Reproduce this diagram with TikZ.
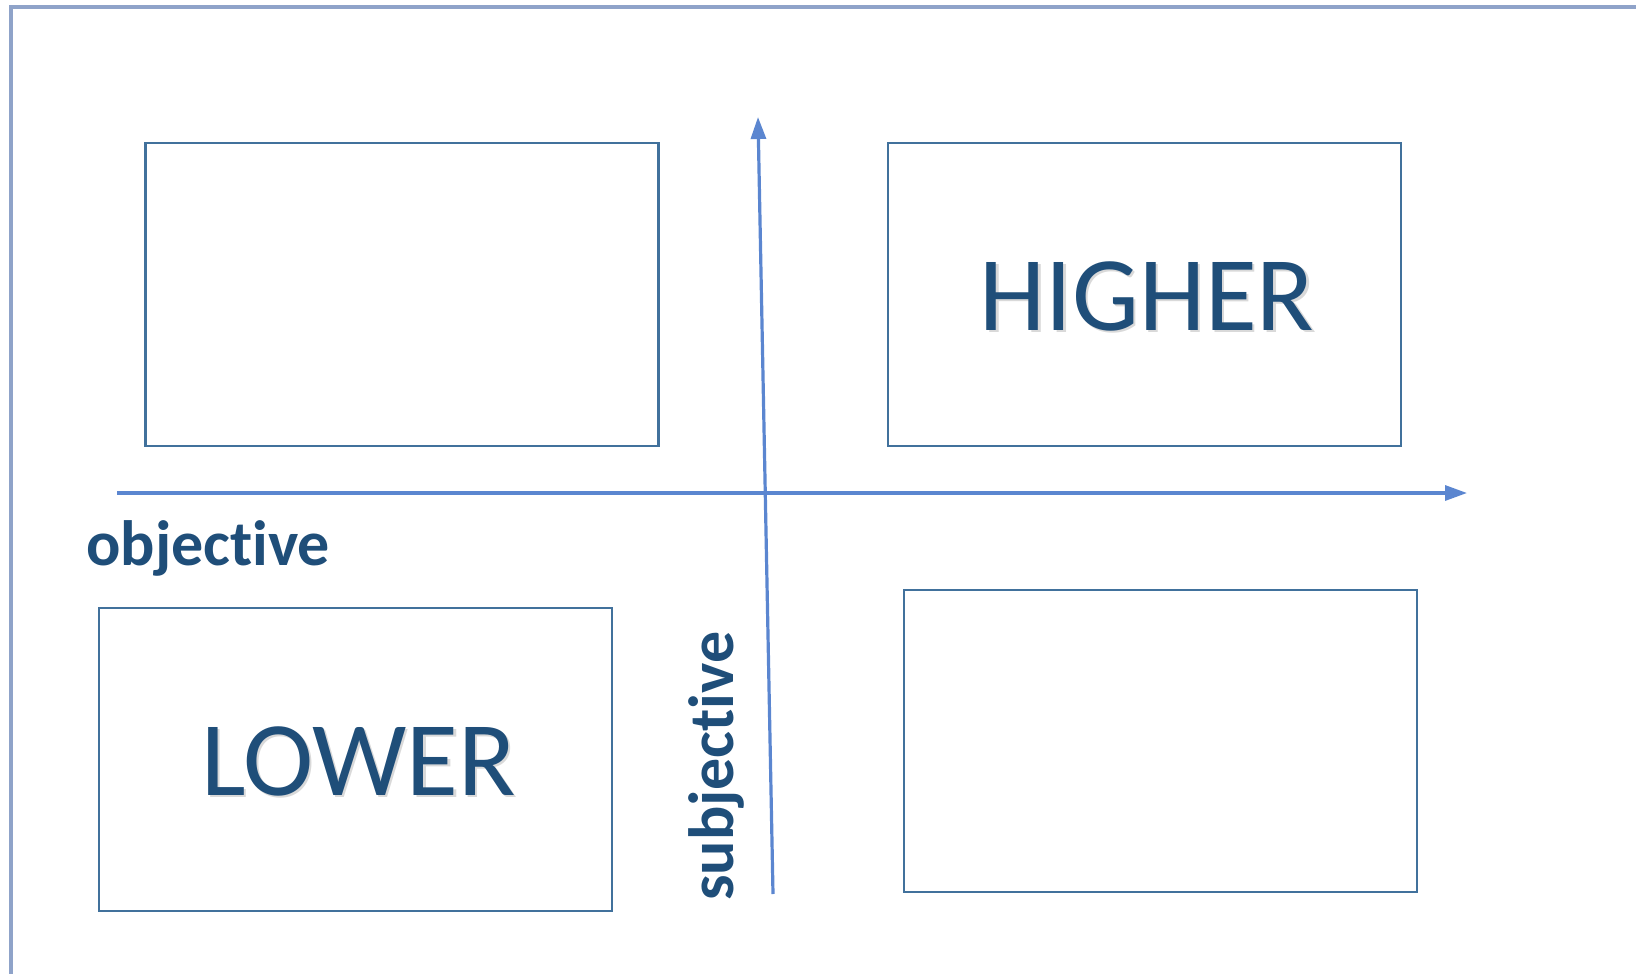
\documentclass[tikz,border=0pt]{standalone}
\usepackage{fontspec}
\setmainfont{Carlito}[Ligatures=NoCommon]
\usetikzlibrary{arrows.meta}
\definecolor{txtblue}{HTML}{1F4E79}
\definecolor{boxblue}{HTML}{41719C}
\definecolor{axisblue}{HTML}{5B86D0}
\definecolor{frameblue}{HTML}{8FA3C9}
\tikzset{
  quad/.style={draw=boxblue, line width=2.4pt, minimum width=513pt, minimum height=303pt, inner sep=0pt},
  axis/.style={draw=axisblue, line width=3.2pt, -{Triangle[length=22pt,width=15pt]}},
  bigword/.style={text=txtblue, font=\fontsize{106}{112}\selectfont, inner sep=0pt},
  axword/.style={text=txtblue, font=\fontsize{64}{72}\selectfont\bfseries, inner sep=0pt}
}
\begin{document}
\begin{tikzpicture}[x=1pt,y=-1pt]
\useasboundingbox (0,0) rectangle (1636,974);
% outer frame (open to right and bottom)
\draw[frameblue, line width=3.5pt] (11,974) -- (11,7) -- (1636,7);
% quadrant boxes
\node[quad] (tl) at (402,294.5) {};
\node[quad] (tr) at (1144.5,294.5) {};
\node[quad] (bl) at (355.5,759.5) {};
\node[quad, minimum height=302pt] (br) at (1160.5,741) {};
% axes
\coordinate (hstart) at (117,493);
\coordinate (hend) at (1467,493);
\coordinate (vstart) at (773,894);
\coordinate (vend) at (758,117);
\draw[axis] (hstart) -- (hend);
\draw[axis] (vstart) -- (vend);
% words
\node[bigword, text=black!15, anchor=base] at (1149.5,332.5) {HIGHER};
\node[bigword, anchor=base] (higher) at (1147,330) {HIGHER};
\node[bigword, text=black!15, anchor=base] at (361,797.5) {LOWER};
\node[bigword, anchor=base] (lower) at (358.5,795) {LOWER};
\node[axword, anchor=base west] (objective) at (86,565) {objective};
\node[axword, anchor=base west, rotate=90] (subjective) at (733,901) {subjective};
\end{tikzpicture}
\end{document}
